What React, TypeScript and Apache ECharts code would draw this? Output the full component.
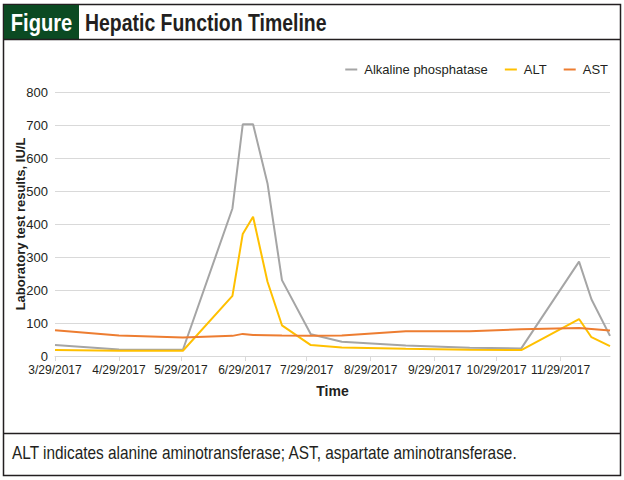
import React, { useEffect, useRef } from "react";
import * as echarts from "echarts";

const dates = [
  "2017-03-29", "2017-04-29", "2017-05-30", "2017-06-23", "2017-06-28", "2017-07-03",
  "2017-07-10", "2017-07-17", "2017-07-31", "2017-08-15", "2017-09-15", "2017-10-16",
  "2017-11-10", "2017-12-08", "2017-12-14", "2017-12-23",
];
const alkalinePhosphatase = [33, 20, 19, 447, 702, 702, 523, 230, 66, 43, 32, 25, 23, 286, 172, 61];
const alt = [18, 16, 16, 182, 370, 422, 225, 93, 33, 26, 22, 19, 18, 112, 57, 30];
const ast = [78, 62, 56, 61, 67, 64, 63, 62, 61, 62, 75, 75, 81, 85, 82, 77];
const tickLabels = [
  "3/29/2017", "4/29/2017", "5/29/2017", "6/29/2017", "7/29/2017",
  "8/29/2017", "9/29/2017", "10/29/2017", "11/29/2017",
];
const axisMin = "2017-03-29";
const axisMax = "2017-12-23";

const FONT = "'Liberation Sans', Arial, sans-serif";
const TEXT = "#231f20";

function isoTs(s: string) {
  const [y, m, d] = s.split("-").map(Number);
  return new Date(y, m - 1, d).getTime();
}
function usTs(s: string) {
  const [m, d, y] = s.split("/").map(Number);
  return new Date(y, m - 1, d).getTime();
}
function fmt(v: number) {
  const d = new Date(v);
  return `${d.getMonth() + 1}/${d.getDate()}/${d.getFullYear()}`;
}

export default function App() {
  const ref = useRef<HTMLDivElement>(null);
  useEffect(() => {
    const chart = echarts.init(ref.current!, null, { renderer: "svg", width: 624, height: 480 });
    const ticks = tickLabels.map(usTs);
    const mk = (vals: number[]) => dates.map((d, i) => [isoTs(d), vals[i]]);
    chart.setOption({
      animation: false,
      backgroundColor: "#ffffff",
      textStyle: { fontFamily: FONT },
      grid: { left: 55, right: 14, top: 92, bottom: 124, containLabel: false, outerBoundsMode: "none" },
      legend: {
        top: 58,
        right: 11,
        itemGap: 17,
        itemWidth: 12,
        itemHeight: 2,
        icon: "rect",
        textStyle: { fontFamily: FONT, fontSize: 13, color: TEXT, padding: [0, 0, 0, 2] },
        data: ["Alkaline phosphatase", "ALT", "AST"],
      },
      xAxis: {
        type: "value",
        min: isoTs(axisMin),
        max: isoTs(axisMax),
        scale: true,
        name: "Time",
        nameLocation: "middle",
        nameGap: 28,
        nameMoveOverlap: false,
        nameTextStyle: { fontFamily: FONT, fontSize: 14, fontWeight: "bold", color: TEXT },
        axisLine: { lineStyle: { color: "#d9d9d9", width: 1 } },
        axisTick: { show: true, length: 5, customValues: ticks, lineStyle: { color: "#d9d9d9" } },
        axisLabel: {
          customValues: ticks,
          formatter: (v: number) => fmt(v),
          fontFamily: FONT,
          fontSize: 12,
          lineHeight: 13,
          color: TEXT,
          margin: 7,
          hideOverlap: false,
        },
        splitLine: { show: false },
      },
      yAxis: {
        type: "value",
        min: 0,
        max: 800,
        interval: 100,
        name: "Laboratory test results, IU/L",
        nameLocation: "middle",
        nameRotate: 90,
        nameGap: 28,
        nameMoveOverlap: false,
        nameTextStyle: { fontFamily: FONT, fontSize: 13, fontWeight: "bold", color: TEXT },
        axisLine: { show: false },
        axisTick: { show: false },
        axisLabel: { fontFamily: FONT, fontSize: 13, lineHeight: 13, color: TEXT, margin: 7 },
        splitLine: { lineStyle: { color: "#d9d9d9", width: 1 } },
      },
      series: [
        {
          name: "Alkaline phosphatase",
          type: "line",
          data: mk(alkalinePhosphatase),
          showSymbol: false,
          symbol: "none",
          lineStyle: { color: "#a5a5a5", width: 2 },
          itemStyle: { color: "#a5a5a5" },
        },
        {
          name: "ALT",
          type: "line",
          data: mk(alt),
          showSymbol: false,
          symbol: "none",
          lineStyle: { color: "#ffc000", width: 2 },
          itemStyle: { color: "#ffc000" },
        },
        {
          name: "AST",
          type: "line",
          data: mk(ast),
          showSymbol: false,
          symbol: "none",
          lineStyle: { color: "#ed7d31", width: 2 },
          itemStyle: { color: "#ed7d31" },
        },
      ],
      graphic: [
        {
          type: "rect",
          shape: { x: 3.5, y: 4.5, width: 617, height: 471 },
          style: { fill: "none", stroke: TEXT, lineWidth: 1.5 },
          silent: true,
        },
        {
          type: "rect",
          shape: { x: 4, y: 5, width: 75, height: 34 },
          style: { fill: "#0b4a22" },
          silent: true,
        },
        {
          type: "line",
          shape: { x1: 3.5, y1: 39.5, x2: 620.5, y2: 39.5 },
          style: { stroke: TEXT, lineWidth: 1.5 },
          silent: true,
        },
        {
          type: "line",
          shape: { x1: 3.5, y1: 433.5, x2: 620.5, y2: 433.5 },
          style: { stroke: TEXT, lineWidth: 1.5 },
          silent: true,
        },
        {
          type: "text",
          x: 41.5,
          y: 23,
          scaleX: 0.84,
          style: {
            text: "Figure",
            fill: "#ffffff",
            font: `bold 24px ${FONT}`,
            align: "center",
            verticalAlign: "middle",
          },
          silent: true,
        },
        {
          type: "text",
          x: 85,
          y: 23,
          scaleX: 0.81,
          style: {
            text: "Hepatic Function Timeline",
            fill: TEXT,
            font: `bold 24px ${FONT}`,
            align: "left",
            verticalAlign: "middle",
          },
          silent: true,
        },
        {
          type: "text",
          x: 12,
          y: 453,
          scaleX: 0.855,
          style: {
            text: "ALT indicates alanine aminotransferase; AST, aspartate aminotransferase.",
            fill: TEXT,
            font: `18px ${FONT}`,
            align: "left",
            verticalAlign: "middle",
          },
          silent: true,
        },
      ],
    });
    return () => chart.dispose();
  }, []);
  return (
    <div
      ref={ref}
      style={{ position: "fixed", left: 0, top: 0, width: 624, height: 480, background: "#fff" }}
    />
  );
}
